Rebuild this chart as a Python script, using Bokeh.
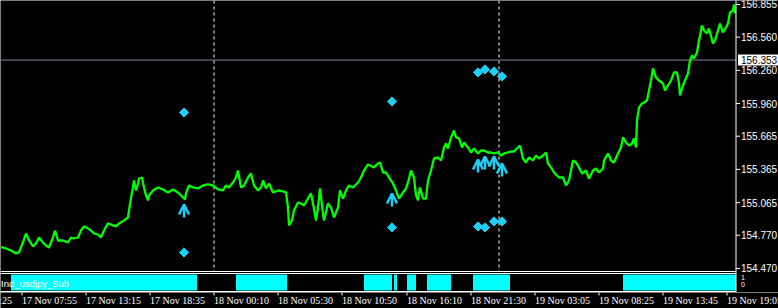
import math
from bokeh.plotting import figure
from bokeh.models import Range1d, Label, LabelSet, ColumnDataSource, Arrow, OpenHead
from bokeh.layouts import column
from bokeh.embed import file_html
from bokeh.resources import INLINE
from bokeh.core.properties import value

# ---------------- data (bar index = one M5 bar) ----------------
bar_index = [0, 5, 10, 15, 18, 22, 25, 28, 32, 35, 38, 42, 45, 48, 52, 54, 57, 62, 67, 70,
             73, 77, 80, 83, 87, 90, 93, 97, 100, 103, 107, 112, 115, 118, 123, 127, 128, 130, 132, 133,
             135, 137, 138, 141, 143, 145, 147, 148, 152, 157, 162, 167, 172, 177, 182, 184,
             185, 188, 192, 197, 202, 207, 212, 217, 222, 225, 228, 232, 235, 237, 240, 243, 247, 250, 253, 257,
             260, 262, 265, 268, 272, 277, 282, 285, 287, 288, 291, 293, 297, 300, 303, 307, 310, 313, 315, 317,
             319, 322, 323, 327, 330, 333, 337, 339, 342, 345, 348, 352, 357, 360, 363, 367, 369,
             373, 377, 379, 382, 385, 388, 392, 395, 398, 402, 405, 407, 410, 413, 415, 417, 419, 422, 425, 427,
             430, 433, 437, 440, 443, 445, 447, 450, 453, 455, 458, 461, 463, 467, 470, 473, 477, 480, 483, 487,
             490, 493, 497, 500, 503, 507, 510, 513, 517, 519, 522, 525, 528, 532, 535, 538, 542, 545, 547, 550, 553,
             558, 562, 565, 568, 570, 572, 575, 578, 581, 585, 588, 592, 595, 598, 602, 603, 607, 610, 613,
             617, 620, 622, 625, 628, 631, 633, 635, 636, 638, 641, 643, 646, 648, 650, 652, 655, 658, 662, 664,
             667, 670, 673, 676, 678, 679, 682, 684, 687, 689, 691, 693, 696, 698, 701, 703, 706, 708, 712, 714,
             717, 719, 722, 725, 727, 729, 732, 733, 734]

close = [154.663, 154.651, 154.633, 154.606, 154.615, 154.705, 154.786, 154.723, 154.669, 154.696,
         154.750, 154.705, 154.678, 154.660, 154.750, 154.813, 154.723, 154.723, 154.705, 154.750,
         154.741, 154.750, 154.813, 154.850, 154.832, 154.813, 154.786, 154.777, 154.750, 154.813,
         154.877, 154.859, 154.850, 154.877, 154.904, 154.931, 154.994, 155.111, 155.202, 155.265,
         155.175, 155.238, 155.283, 155.292, 155.202, 155.130, 155.085, 155.130, 155.175, 155.202,
         155.184, 155.157, 155.184, 155.157, 155.111, 155.093,
         155.148, 155.220, 155.202, 155.193, 155.220, 155.229, 155.220, 155.184, 155.175, 155.220,
         155.202, 155.247, 155.292, 155.355, 155.202, 155.220, 155.292, 155.328, 155.220, 155.175,
         155.202, 155.265, 155.193, 155.238, 155.157, 155.175, 155.166, 155.157, 155.021, 154.860,
         154.904, 154.994, 155.066, 155.057, 155.039, 155.102, 155.148, 155.012, 154.904, 155.021,
         155.193, 154.967, 154.904, 155.057, 155.021, 154.931, 155.021, 155.175, 155.102, 155.175,
         155.220, 155.202, 155.247, 155.292, 155.355, 155.410, 155.401,
         155.383, 155.419, 155.428, 155.337, 155.337, 155.292, 155.238, 155.175, 155.102, 155.157,
         155.193, 155.247, 155.355, 155.292, 155.130, 155.085, 155.202, 155.102, 155.102, 155.265,
         155.355, 155.464, 155.473, 155.446, 155.563, 155.599, 155.554, 155.654, 155.717, 155.654,
         155.645, 155.563, 155.608, 155.563, 155.518, 155.554, 155.509, 155.536, 155.536, 155.518,
         155.518, 155.509, 155.518, 155.491, 155.509, 155.518, 155.527, 155.527, 155.563, 155.581,
         155.464, 155.428, 155.473, 155.446, 155.491, 155.464, 155.491, 155.518, 155.419, 155.383, 155.337,
         155.292, 155.292, 155.220, 155.265, 155.355, 155.446, 155.428, 155.383, 155.328,
         155.355, 155.283, 155.355, 155.373, 155.337, 155.373, 155.446, 155.509, 155.446, 155.428,
         155.509, 155.563, 155.654, 155.608, 155.581, 155.599, 155.645, 155.563, 155.807, 155.925,
         155.961, 155.970, 155.988, 156.078, 156.168, 156.277, 156.195, 156.168, 156.141, 156.078,
         156.123, 156.168, 156.241, 156.241, 156.141, 156.033, 156.123, 156.168, 156.232, 156.349,
         156.394, 156.367, 156.421, 156.530, 156.665, 156.620, 156.593, 156.638, 156.503, 156.530,
         156.620, 156.683, 156.602, 156.647, 156.683, 156.783, 156.801, 156.855, 156.774]

diamond_x = [183, 183, 391, 391, 477, 484, 493, 501, 477, 484, 493, 501]
diamond_y = [155.879, 154.615, 155.979, 154.841, 156.241, 156.268, 156.250, 156.205,
             154.850, 154.841, 154.895, 154.895]

arrow_x = [183, 391, 477, 484, 493, 501]
arrow_y = [155.048, 155.148, 155.455, 155.482, 155.482, 155.419]

level_price = 156.353
separator_x = [213, 498]

price_ticks = [156.855, 156.560, 156.260, 155.960, 155.665, 155.365, 155.065, 154.770, 154.470]
price_tick_labels = ["156.855", "156.560", "156.260", "155.960", "155.665",
                     "155.365", "155.065", "154.770", "154.470"]

sub_ticks = [1, 0]
sub_tick_labels = ["1", "0"]

time_tick_x = [-44, 21, 85, 149, 213, 277, 341, 406, 470, 534, 598, 662, 726]
time_labels = ["17 Nov 02:25", "17 Nov 07:55", "17 Nov 13:15", "17 Nov 18:35", "18 Nov 00:10",
               "18 Nov 05:30", "18 Nov 10:50", "18 Nov 16:10", "18 Nov 21:30", "19 Nov 03:05",
               "19 Nov 08:25", "19 Nov 13:45", "19 Nov 19:05"]

sub_start = [10, 235, 363, 393, 406, 426, 472, 622]
sub_end = [196, 286, 391, 396, 415, 450, 509, 735]

# ---------------- styling / layout ----------------
CYAN = "#1fcff7"
FONT = "Liberation Sans"
W = 778
AXIS_X = 735            # price-scale line position (bar units = pixels)
PX = 0.009034           # price per screen pixel
Y_TOP = 156.891
MAIN_H = 292
Y_BOT = Y_TOP - MAIN_H * PX
PANEL_BOTTOM = Y_TOP - 271 * PX
SUB_PX = 1 / 16         # sub-window units per pixel

p = figure(width=W, height=MAIN_H, x_range=Range1d(-0.5, W - 0.5), y_range=Range1d(Y_BOT, Y_TOP),
           x_axis_location=None, y_axis_location=None, toolbar_location=None,
           output_backend="svg", background_fill_color="black", border_fill_color="black",
           min_border=0, outline_line_color=None)
p.grid.visible = False
p.extra_y_ranges = {"sub": Range1d(-2 * SUB_PX, 290 * SUB_PX)}

# subwindow histogram
p.quad(left=sub_start, right=sub_end, bottom=0, top=1, y_range_name="sub",
       fill_color="#00ffff", line_color=None)

# panel borders (main bottom, sub top, sub bottom)
border_y = [1 + 3 * SUB_PX, 1 + 1 * SUB_PX, -1 * SUB_PX]
p.segment(x0=[-0.5] * 3, x1=[AXIS_X] * 3, y0=border_y, y1=border_y, y_range_name="sub",
          line_color="white", line_width=1)

# day separators
p.segment(x0=separator_x, x1=separator_x, y0=Y_TOP, y1=PANEL_BOTTOM,
          line_color="white", line_dash="3 3", line_width=1)

# level line
p.segment(x0=[-0.5], x1=[AXIS_X], y0=[level_price], y1=[level_price], line_color="#7b8a9a", line_width=1)

# price line
p.line(bar_index, close, line_color="#00ff00", line_width=2.3)

# diamonds
p.scatter(diamond_x, diamond_y, marker="square", angle=math.pi / 4, size=6.5,
          fill_color=CYAN, line_color=CYAN)

# arrows
asrc = ColumnDataSource(dict(x=arrow_x, y=arrow_y, y0=[v - 13 * PX for v in arrow_y]))
p.add_layout(Arrow(end=OpenHead(size=10, line_color=CYAN, line_width=2.5),
                   x_start="x", y_start="y0", x_end="x", y_end="y", source=asrc,
                   line_color=CYAN, line_width=2.5))

# price scale (right)
p.segment(x0=[AXIS_X], x1=[AXIS_X], y0=[Y_TOP], y1=[Y_BOT], line_color="white", line_width=1)
p.segment(x0=[AXIS_X] * len(price_ticks), x1=[AXIS_X + 4] * len(price_ticks),
          y0=price_ticks, y1=price_ticks, line_color="white", line_width=1)
p.text(x=[AXIS_X + 5] * len(price_ticks), y=price_ticks, text=price_tick_labels,
       text_font=value(FONT), text_font_size=value("10px"), text_color="white",
       text_baseline="middle", text_align="left")

# level price box
p.quad(left=[AXIS_X + 2], right=[W], top=[level_price + 5.5 * PX], bottom=[level_price - 5.5 * PX],
       fill_color="white", line_color=None)
p.text(x=[AXIS_X + 5], y=[level_price], text=["%.3f" % level_price],
       text_font=value(FONT), text_font_size=value("10px"), text_color="black",
       text_baseline="middle", text_align="left")

# sub-window scale + name
p.text(x=[AXIS_X + 5] * 2, y=[0.82, 0.38], text=sub_tick_labels, y_range_name="sub",
       text_font=value(FONT), text_font_size=value("7px"), text_color="white",
       text_baseline="middle", text_align="left")
p.add_layout(Label(x=0, y=0.45, y_range_name="sub", text="Ind_usdjpy_Sub", text_color="white",
                   text_font=FONT, text_font_size="9.5px", text_baseline="middle"))

# time axis strip
t = figure(width=W, height=16, x_range=Range1d(-0.5, W - 0.5), y_range=Range1d(0, 16),
           x_axis_location=None, y_axis_location=None, toolbar_location=None,
           output_backend="svg", background_fill_color="black", border_fill_color="black",
           min_border=0, outline_line_color=None)
t.grid.visible = False
t.segment(x0=time_tick_x, x1=time_tick_x, y0=16, y1=13, line_color="white", line_width=1)
tsrc = ColumnDataSource(dict(x=time_tick_x, y=[8] * len(time_tick_x), text=time_labels))
t.add_layout(LabelSet(x="x", y="y", text="text", source=tsrc, text_align="left",
                      text_baseline="middle", text_color="white", text_font=FONT,
                      text_font_size="10px"))

layout = column(p, t, spacing=0)
open("out.html", "w").write(file_html(layout, INLINE))
